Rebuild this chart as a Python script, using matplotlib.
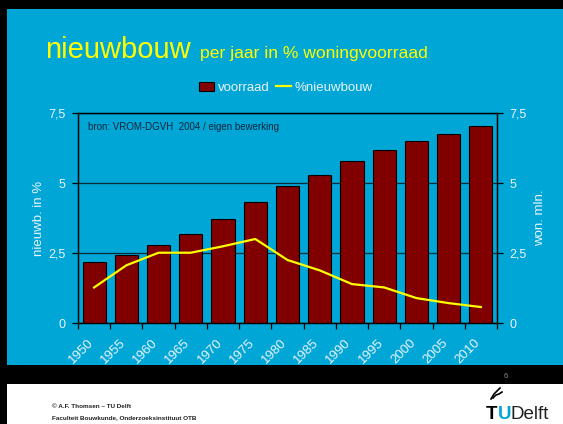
import matplotlib
matplotlib.use("Agg")
import matplotlib.pyplot as plt
import matplotlib.transforms as mtransforms
from matplotlib.patches import Rectangle
from matplotlib.lines import Line2D
import numpy as np

# data
jaren = ["1950", "1955", "1960", "1965", "1970", "1975", "1980",
         "1985", "1990", "1995", "2000", "2005", "2010"]
voorraad = [2.19, 2.44, 2.79, 3.19, 3.71, 4.33, 4.89,
            5.29, 5.80, 6.19, 6.50, 6.75, 7.02]          # won. mln.
nieuwbouw = [1.27, 2.06, 2.51, 2.51, 2.74, 3.00, 2.25,
             1.88, 1.39, 1.27, 0.89, 0.71, 0.57]         # % per jaar
yticks = [0, 2.5, 5, 7.5]
ytick_labels = ["0", "2,5", "5", "7,5"]

W, H = 563, 424
BLAUW = "#00A6D6"
LICHT = "#EAF4FA"
plt.rcParams["font.family"] = ["Liberation Sans", "DejaVu Sans"]

fig = plt.figure(figsize=(W / 100, H / 100), dpi=100, facecolor="white")


def px(x, y):
    return x / W, 1 - y / H


# slide achtergrond
fig.patches.append(Rectangle((0, 40 / H), 1, 1 - 40 / H, transform=fig.transFigure,
                             facecolor="black", edgecolor="none", zorder=-3))
fig.patches.append(Rectangle((7 / W, 59 / H), 1 - 7 / W, 356 / H, transform=fig.transFigure,
                             facecolor=BLAUW, edgecolor="none", zorder=-2))
fig.patches.append(Rectangle((0, 0), 7 / W, 1, transform=fig.transFigure,
                             facecolor="black", edgecolor="none", zorder=-2))

# grafiek
ax = fig.add_axes([78 / W, 1 - 323 / H, 419 / W, 210 / H])
ax.set_facecolor("none")
ax2 = ax.twinx()

x = np.arange(len(jaren))
bars = ax.bar(x, voorraad, width=0.72, color="#800000", edgecolor="black",
              linewidth=0.8, zorder=3, label="voorraad")
lijn, = ax2.plot(x, nieuwbouw, color="#FFFF00", linewidth=1.6, label="%nieuwbouw")

for a in (ax, ax2):
    a.set_ylim(0, 7.5)
    a.set_xlim(-0.5, len(jaren) - 0.5)
    a.set_yticks(yticks)
    a.set_yticklabels(ytick_labels)
    for s in a.spines.values():
        s.set_color("black")
        s.set_linewidth(0.9)
    a.tick_params(axis="y", direction="out", length=4, width=0.9, color="black",
                  labelcolor=LICHT, labelsize=9, pad=5)

ax.yaxis.grid(True, color="#0b2a38", linewidth=0.9, zorder=0)
ax.set_axisbelow(True)

ax.set_xticks(np.arange(len(jaren) + 1) - 0.5)
ax.set_xticklabels([])
ax.set_xticks(x, minor=True)
ax.set_xticklabels(jaren, minor=True, rotation=45, ha="right", va="top",
                   rotation_mode="anchor")
ax.tick_params(axis="x", which="major", direction="out", length=4, width=0.9, color="black")
ax.tick_params(axis="x", which="minor", length=0, pad=10, labelsize=9.5, labelcolor=LICHT)
shift = mtransforms.ScaledTranslation(-7 / 100, 0, fig.dpi_scale_trans)
for lab in ax.xaxis.get_minorticklabels():
    lab.set_transform(lab.get_transform() + shift)

ax.set_ylabel("nieuwb. in %", color=LICHT, fontsize=9.5)
ax.yaxis.set_label_coords(-0.078, 0.5)
ax2.set_ylabel("won. mln.", color=LICHT, fontsize=9.5)
ax2.yaxis.set_label_coords(1.088, 0.5)

ax.text(88 / W, 1 - 127 / H, "bron: VROM-DGVH  2004 / eigen bewerking",
        transform=fig.transFigure, fontsize=7, color="#14263a", va="center")

leg = ax.legend([bars, lijn], ["voorraad", "%nieuwbouw"], loc="center",
                bbox_to_anchor=px(286, 88), bbox_transform=fig.transFigure,
                ncol=2, frameon=False, fontsize=9.5, handlelength=1.15,
                handletextpad=0.25, columnspacing=0.5, borderpad=0)
for t in leg.get_texts():
    t.set_color(LICHT)

# titel
fig.text(*px(45, 58), "nieuwbouw", fontsize=21, color="#FFFF00", va="baseline")
fig.text(*px(200, 58), "per jaar in % woningvoorraad", fontsize=12.6,
         color="#FFFF00", va="baseline")

# voettekst
fig.text(*px(506, 377), "6", fontsize=5.5, color="#8a8a8a", ha="center", va="center")
fig.text(*px(52, 406), "© A.F. Thomsen – TU Delft", fontsize=4.6,
         fontweight="bold", color="#222222", va="center")
fig.text(*px(52, 418), "Faculteit Bouwkunde, Onderzoeksinstituut OTB", fontsize=4.6,
         fontweight="bold", color="#222222", va="center")
fig.text(*px(486, 419), "T", fontsize=13.5, color="black", fontweight="bold", va="baseline")
fig.text(*px(497.5, 419), "U", fontsize=13.5, color=BLAUW, fontweight="bold", va="baseline")
fig.text(*px(510, 419), "Delft", fontsize=13.5, color="#222222", va="baseline")
# vlammetje boven de T
for xs, ys in (([491, 494, 497, 500], [399, 394, 391, 388]),
               ([493, 496, 499, 502], [398, 395, 394, 392])):
    fig.add_artist(Line2D([v / W for v in xs], [1 - v / H for v in ys],
                          transform=fig.transFigure, color="black", linewidth=1.2))

fig.savefig("out.png", dpi=100, facecolor=fig.get_facecolor())
